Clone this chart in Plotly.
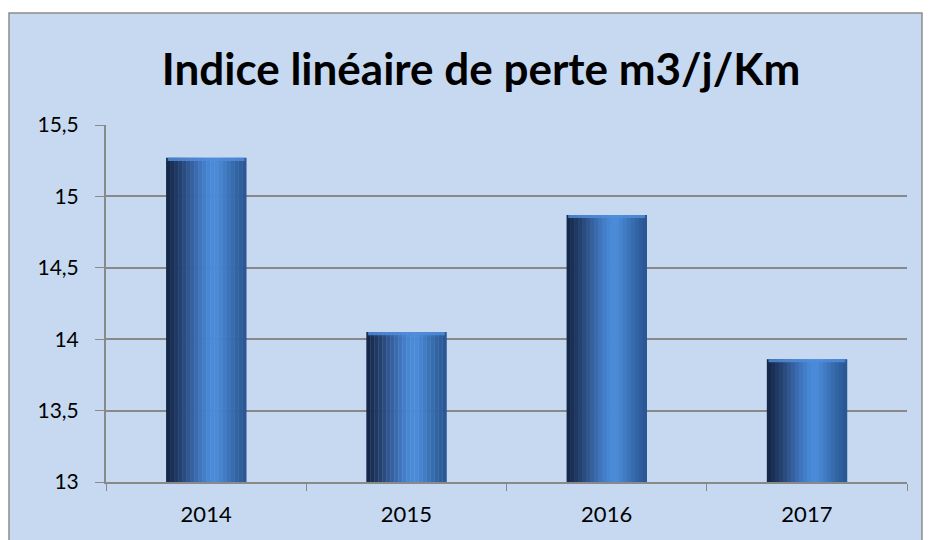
import plotly.graph_objects as go

years = ["2014", "2015", "2016", "2017"]
values = [15.27, 14.05, 14.87, 13.86]
y_ticks = [13, 13.5, 14, 14.5, 15, 15.5]
y_tick_labels = ["13", "13,5", "14", "14,5", "15", "15,5"]
title_text = "Indice linéaire de perte m3/j/Km"

# cylinder shading profile (left -> right)
shade = ["#15284a", "#1a3056", "#1f3962", "#24426f", "#2a4c7e", "#30578f",
         "#35619f", "#3a6bae", "#3f75bc", "#437ec8", "#4786d2", "#4a8bd8",
         "#4a8ad6", "#4684cf", "#417cc5", "#3c74ba", "#376cae", "#3265a4",
         "#2e5e9b", "#2b5894"]

bar_w = 0.4
n = len(shade)
fig = go.Figure()
for i, c in enumerate(shade):
    w = bar_w / n
    fig.add_trace(go.Bar(
        x=years, y=[v - 13 for v in values], base=13,
        width=w * 1.08, offset=-bar_w / 2 + i * w,
        marker=dict(color=c, line=dict(width=0)),
        hoverinfo="skip", showlegend=False,
    ))
# lighter top rim
cap_h = 0.022
fig.add_trace(go.Bar(
    x=years, y=[cap_h] * len(values), base=[v - cap_h for v in values],
    width=bar_w * 0.96, offset=-bar_w * 0.48,
    marker=dict(color="rgba(80,140,220,0.85)", line=dict(width=0)),
    hoverinfo="skip", showlegend=False,
))

FONT = "Lato"
GRAY = "#898989"
fig.update_layout(
    width=931, height=540,
    barmode="overlay",
    paper_bgcolor="white",
    plot_bgcolor="rgba(0,0,0,0)",
    margin=dict(l=98, r=32, t=117, b=66),
    title=dict(text="<b>" + title_text + "</b>", x=473 / 931, xanchor="center",
               y=1 - 62 / 540, yanchor="middle",
               font=dict(family=FONT, size=44, color="black")),
    shapes=[dict(type="rect", xref="paper", yref="paper",
                 x0=-0.1211, x1=1.0187, y0=-0.25, y1=1.3137,
                 fillcolor="#c6d9f0", line=dict(color="#8c8c8c", width=1.5),
                 layer="below")],
    xaxis=dict(type="category", showgrid=False, ticks="outside",
               tickson="boundaries", ticklen=7, tickcolor=GRAY,
               showline=True, linecolor=GRAY, linewidth=2,
               ticklabelstandoff=12,
               tickfont=dict(family=FONT, size=22, color="black")),
    yaxis=dict(range=[13, 15.5], tickvals=y_ticks, ticktext=y_tick_labels,
               showgrid=True, gridcolor=GRAY, gridwidth=2,
               ticks="outside", ticklen=9, tickcolor=GRAY,
               showline=True, linecolor=GRAY, linewidth=2,
               zeroline=False, ticklabelstandoff=12,
               tickfont=dict(family=FONT, size=21, color="black")),
)

fig.write_html("out.html")
